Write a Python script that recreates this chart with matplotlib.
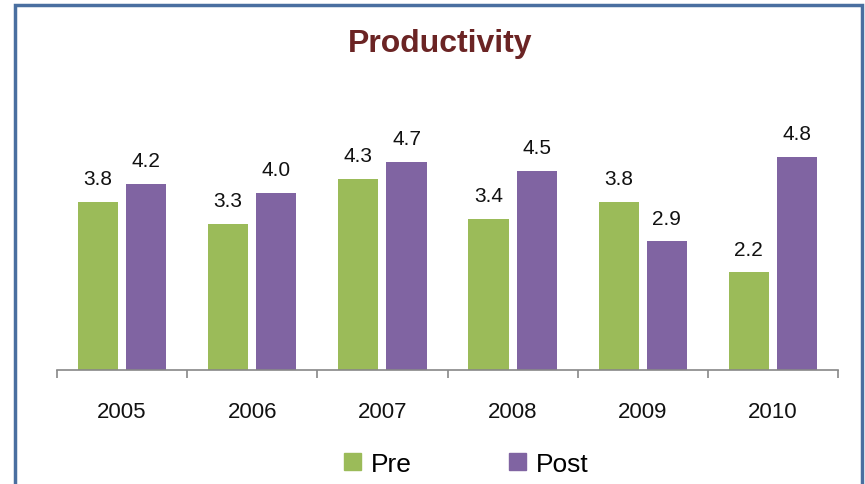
import numpy as np
import matplotlib.pyplot as plt
from matplotlib.patches import Rectangle, Patch

years = ["2005", "2006", "2007", "2008", "2009", "2010"]
pre = [3.8, 3.3, 4.3, 3.4, 3.8, 2.2]
post = [4.2, 4.0, 4.7, 4.5, 2.9, 4.8]

green = "#9BBB59"
purple = "#8064A2"
narrow = ["Liberation Sans Narrow", "Liberation Sans", "DejaVu Sans"]

fig = plt.figure(figsize=(8.65, 4.85), dpi=100)
ax = fig.add_axes([0.0659, 0.235, 0.9029, 0.5485])

x = np.arange(len(years))
width = 0.308
off = 0.185
b1 = ax.bar(x - off, pre, width, color=green, label="Pre")
b2 = ax.bar(x + off, post, width, color=purple, label="Post")

for bars, vals in [(b1, pre), (b2, post)]:
    for b, v in zip(bars, vals):
        ax.annotate(f"{v:.1f}", (b.get_x() + b.get_width() / 2, v),
                    xytext=(0, 10), textcoords="offset points",
                    ha="center", va="bottom", fontsize=15, family=narrow,
                    color="#111111")

ax.set_xlim(-0.5, len(years) - 0.5)
ax.set_ylim(0, 6)
ax.set_yticks([])
for s in ["top", "right", "left"]:
    ax.spines[s].set_visible(False)
ax.spines["bottom"].set_color("#888888")
ax.spines["bottom"].set_linewidth(1.2)

# ticks on category boundaries, labels at centres
ax.set_xticks(np.arange(len(years) + 1) - 0.5)
ax.set_xticklabels([])
ax.set_xticks(x, minor=True)
ax.set_xticklabels(years, minor=True, fontsize=16, family=narrow, color="#111111")
ax.tick_params(axis="x", which="major", length=6, width=1.2, color="#888888", direction="out")
ax.tick_params(axis="x", which="minor", length=0, pad=22)

fig.text(0.509, 0.91, "Productivity", ha="center", va="center",
         fontsize=23, fontweight="semibold", color="#6B2424", family="Liberation Sans")

handles = [Patch(color=green), Patch(color=purple)]
fig.legend(handles, ["Pre", "Post"], loc="center", bbox_to_anchor=(0.539, 0.042),
           ncol=2, frameon=False, prop={"family": narrow, "size": 19},
           handlelength=0.65, handleheight=0.65, handletextpad=0.35, columnspacing=3.7)

fig.patches.append(Rectangle((15 / 865, -0.1), 847 / 865, 1.1 - 6 / 485,
                             transform=fig.transFigure, fill=False,
                             edgecolor="#4A6FA0", linewidth=2.5))

fig.savefig("out.png", dpi=100)
